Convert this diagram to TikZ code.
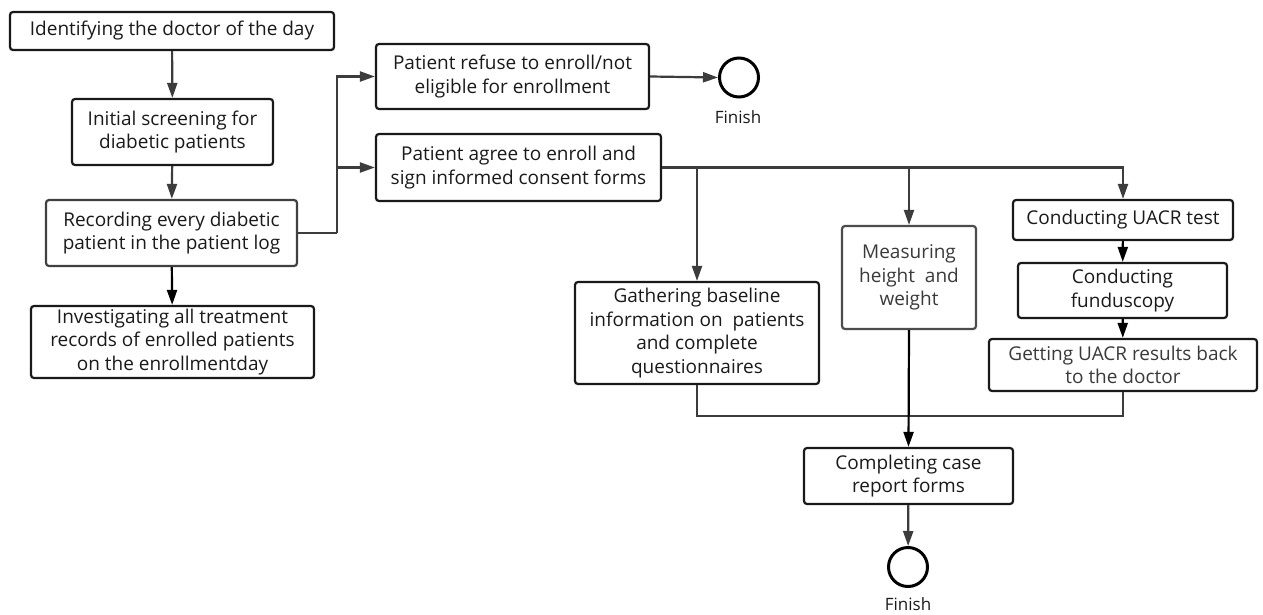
\documentclass[tikz,border=0pt]{standalone}
\usepackage{fontspec}
\setmainfont{Open Sans}
\usetikzlibrary{arrows.meta}
\definecolor{ln}{HTML}{3C3C3C}
\definecolor{tx}{HTML}{1A1A1A}
\definecolor{tg}{HTML}{3A3A3A}
\tikzset{
  box/.style={draw=black!90, line width=2.2pt, rounded corners=3pt, align=center,
    inner sep=0pt, text=tx, font=\fontsize{19}{23.5}\selectfont, fill=white},
  conn/.style={draw=ln, line width=2.2pt},
  arr/.style={conn, -{Triangle[length=15pt,width=10pt]}},
  endc/.style={circle, draw=black, line width=3pt, minimum size=39pt, inner sep=0pt},
  lab/.style={font=\fontsize{17}{20}\selectfont, text=tx}
}
\begin{document}
\begin{tikzpicture}[x=1pt,y=-1pt]
\useasboundingbox[fill=white] (0,0) rectangle (1263,615);
% left column
\node[box, minimum width=324pt, minimum height=38pt] (n1) at (172,31) {Identifying the doctor of the day};
\node[box, minimum width=201pt, minimum height=66pt] (n2) at (172.5,132) {Initial screening for\\diabetic patients};
\node[box, draw=black!75, minimum width=251pt, minimum height=66pt] (n3) at (171.5,233) {Recording every diabetic\\patient in the patient log};
\node[box, minimum width=283pt, minimum height=72pt] (n4) at (172.5,342) {Investigating all treatment\\records of enrolled patients\\on the enrollmentday};
% branch boxes
\node[box, minimum width=273pt, minimum height=65pt] (n5) at (512.5,76.5) {Patient refuse to enroll/not\\eligible for enrollment};
\node[box, minimum width=285pt, minimum height=67pt] (n6) at (518.5,167.5) {Patient agree to enroll and\\sign informed consent forms};
\node[endc] (f1) at (739,77.5) {};
\node[lab] (l1) at (738,117) {Finish};
% parallel tasks
\node[box, minimum width=244pt, minimum height=102pt] (n7) at (697,333) {Gathering baseline\\information on~ patients\\and complete\\questionnaires};
\node[box, draw=black!70, text=tg, minimum width=134pt, minimum height=103pt] (n8) at (909,277.5) {Measuring\\height~ and\\weight};
\node[box, minimum width=220pt, minimum height=40pt] (n9) at (1123,220) {Conducting UACR test};
\node[box, minimum width=209pt, minimum height=55pt] (n10) at (1122.5,290.5) {Conducting\\funduscopy};
\node[box, text=tg, minimum width=268pt, minimum height=52pt] (n11) at (1123,365) {Getting UACR results back\\to the doctor};
\node[box, minimum width=209pt, minimum height=56pt] (n12) at (908.5,476) {Completing case\\report forms};
\node[endc] (f2) at (908,567) {};
\node[lab] (l2) at (908,604) {Finish};
% coordinates
\coordinate (s1) at (337,233);
\coordinate (m1) at (697,416);
\coordinate (m2) at (1123,416);
% connectors
\draw[arr] (n1) -- (n2);
\draw[arr] (n2) -- (n3);
\draw[arr, draw=black] (n3) -- (n4);
\draw[conn] (n3.east) -- (s1);
\draw[arr] (s1) |- (n5.west);
\draw[arr] (s1) |- (n6.west);
\draw[arr] (n5.east) -- (f1.west);
\draw[arr] (n6.east) -| (n9.north);
\draw[arr] (n7.north |- n6.east) -- (n7.north);
\draw[arr] (n8.north |- n6.east) -- (n8.north);
\draw[arr, draw=black] (n9) -- (n10);
\draw[arr, draw=black] (n10) -- (n11);
\draw[conn] (n7.south) -- (m1) -- (m2) -- (n11.south);
\draw[arr, draw=black] (n8.south) -- (n12.north);
\draw[arr] (n12) -- (f2);
\end{tikzpicture}
\end{document}
